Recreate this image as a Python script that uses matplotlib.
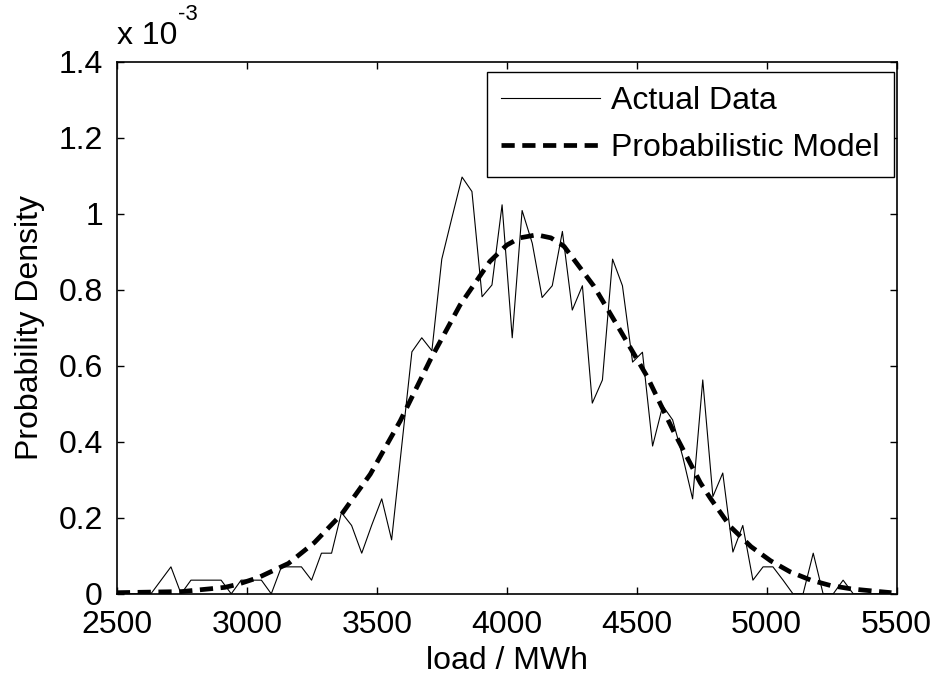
import numpy as np
import matplotlib
matplotlib.use('Agg')
import matplotlib.pyplot as plt

plt.rcParams['font.family'] = ['Liberation Sans', 'DejaVu Sans']

# histogram of the actual load data (bin centres in MWh, density in units of 1e-3)
load_bins = [2515, 2554, 2592, 2631, 2670, 2708, 2747, 2785, 2824, 2863,
             2901, 2940, 2978, 3017, 3056, 3094, 3133, 3171, 3210, 3249,
             3287, 3326, 3364, 3403, 3442, 3480, 3519, 3557, 3596, 3635,
             3673, 3712, 3750, 3789, 3828, 3866, 3905, 3943, 3982, 4021,
             4059, 4098, 4136, 4175, 4214, 4252, 4291, 4329, 4368, 4407,
             4445, 4484, 4522, 4561, 4600, 4638, 4677, 4715, 4754, 4793,
             4831, 4870, 4908, 4947, 4986, 5024, 5063, 5101, 5140, 5179,
             5217, 5256, 5294, 5333, 5372, 5410, 5449, 5487]
actual_density = [0, 0, 0, 0, 0.036, 0.071, 0, 0.036, 0.036, 0.036,
                  0.036, 0, 0.036, 0.036, 0.036, 0, 0.071, 0.071, 0.071, 0.036,
                  0.107, 0.107, 0.214, 0.18, 0.107, 0.18, 0.25, 0.142, 0.39, 0.637,
                  0.674, 0.64, 0.881, 0.99, 1.097, 1.059, 0.782, 0.813, 1.024, 0.674,
                  1.009, 0.923, 0.78, 0.811, 0.954, 0.747, 0.811, 0.502, 0.563, 0.881,
                  0.811, 0.61, 0.636, 0.389, 0.495, 0.458, 0.361, 0.25, 0.563, 0.256,
                  0.318, 0.11, 0.18, 0.036, 0.071, 0.071, 0.036, 0, 0, 0.107,
                  0, 0, 0.036, 0, 0, 0, 0, 0]

# fitted model curve
model_load = [2500, 2750, 2915, 2965, 3045, 3160, 3260, 3365, 3475, 3590,
              3705, 3820, 3935, 4000, 4050, 4115, 4170, 4220, 4335, 4435,
              4540, 4640, 4745, 4785, 4860, 4940, 5015, 5090, 5170, 5245,
              5325, 5400, 5480]
model_density = [0.003, 0.006, 0.017, 0.025, 0.043, 0.08, 0.135, 0.21, 0.315, 0.455,
                 0.615, 0.76, 0.875, 0.918, 0.937, 0.945, 0.937, 0.915, 0.81, 0.695,
                 0.572, 0.43, 0.292, 0.25, 0.177, 0.124, 0.087, 0.058, 0.036, 0.022,
                 0.013, 0.008, 0.003]

x_ticks = [2500, 3000, 3500, 4000, 4500, 5000, 5500]
y_ticks = [0, 0.2, 0.4, 0.6, 0.8, 1.0, 1.2, 1.4]
y_tick_labels = ['0', '0.2', '0.4', '0.6', '0.8', '1', '1.2', '1.4']

fs = 23

fig = plt.figure(figsize=(9.35, 6.81), dpi=100)
ax = fig.add_axes([0.125, 0.128, 0.834, 0.781])

ax.plot(load_bins, actual_density, color='black', lw=0.8, label='Actual Data')
ax.plot(model_load, model_density, color='black', lw=3.4, ls=(0, (2.8, 1.6)),
        label='Probabilistic Model')

ax.set_xlim(2500, 5500)
ax.set_ylim(0, 1.4)
ax.set_xticks(x_ticks)
ax.set_yticks(y_ticks)
ax.set_yticklabels(y_tick_labels)
ax.tick_params(direction='in', length=5, width=1, top=True, right=True,
               labelsize=fs)
ax.tick_params(axis='x', pad=12)
ax.tick_params(axis='y', pad=10)
for s in ax.spines.values():
    s.set_linewidth(1.2)

ax.set_xlabel('load / MWh', fontsize=fs, labelpad=4)
ax.set_ylabel('Probability Density', fontsize=fs, labelpad=10)

ax.text(0.0, 1.02, 'x 10', transform=ax.transAxes, fontsize=fs,
        ha='left', va='bottom')
ax.text(0.078, 1.07, '-3', transform=ax.transAxes, fontsize=16,
        ha='left', va='bottom')

leg = ax.legend(loc='upper right', bbox_to_anchor=(0.997, 0.981),
                fontsize=fs, frameon=True, fancybox=False,
                edgecolor='black', framealpha=1, handlelength=3.1,
                borderaxespad=0.0, borderpad=0.45, labelspacing=0.52,
                handletextpad=0.35)
leg.get_frame().set_linewidth(1.0)

fig.savefig('out.png', dpi=100)
